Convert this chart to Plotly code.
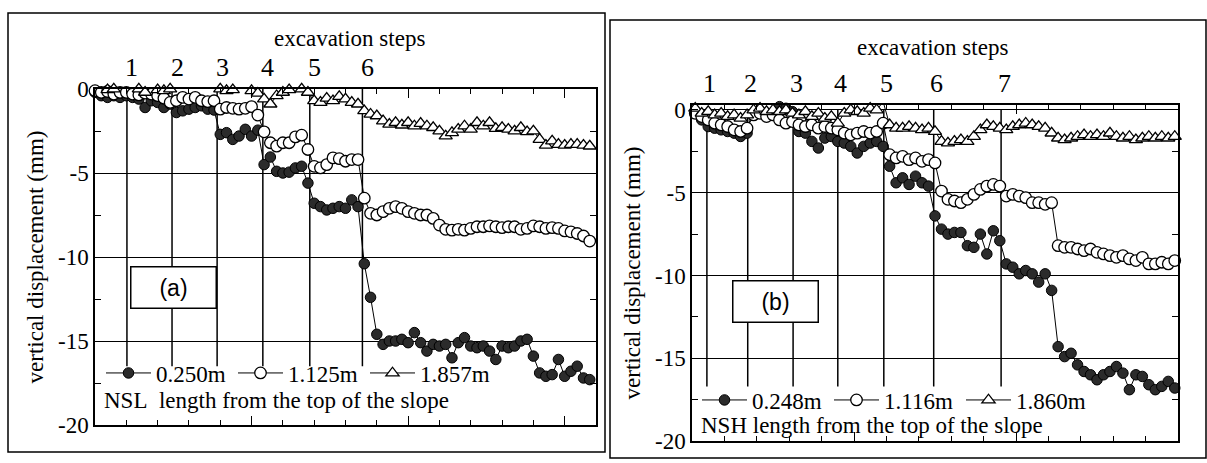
import plotly.graph_objects as go

W, H = 1207, 463

# ---------------- Panel (a): NSL ----------------
steps_a = [5.1, 12.3, 19.5, 26.8, 34.3, 42.7]
step_labels_a = ["1", "2", "3", "4", "5", "6"]

nsl_0250 = [-0.2, -0.4, -0.5, -0.4, -0.5, -0.4, -0.5, -0.6, -1.1, -0.7,
            -0.8, -1.1, -0.9, -1.4, -1.3, -1.2, -1.1, -1.0, -1.2, -1.25,
            -2.7, -2.6, -3.0, -2.8, -2.4, -2.8, -2.45, -4.5, -4.05, -4.9,
            -5.0, -4.95, -4.7, -4.6, -5.6, -6.8, -7.0, -7.2, -7.1, -7.0,
            -7.1, -6.6, -7.0, -10.4, -12.4, -14.6, -15.2, -15.0, -15.0, -14.9,
            -15.1, -14.5, -15.1, -15.6, -15.2, -15.3, -15.2, -16.0, -15.1, -14.8,
            -15.3, -15.4, -15.3, -15.6, -16.1, -15.3, -15.4, -15.3, -15.0, -14.9,
            -15.9, -16.9, -17.1, -17.0, -16.1, -17.1, -16.8, -16.5, -17.2, -17.3]

nsl_1125 = [-0.1, -0.2, -0.15, -0.3, -0.2, -0.2, -0.3, -0.35, -0.25, -0.3,
            -0.4, -0.55, -0.8, -0.7, -0.5, -0.6, -0.5, -0.7, -0.75, -0.7,
            -1.2, -1.1, -1.15, -1.2, -1.15, -1.05, -1.55, -2.55, -3.2, -3.4,
            -3.2, -3.2, -2.85, -2.75, -3.6, -4.6, -4.7, -4.5, -4.1, -4.15,
            -4.3, -4.2, -4.2, -6.5, -7.4, -7.5, -7.3, -7.1, -7.0, -7.1,
            -7.3, -7.4, -7.5, -7.5, -7.7, -8.1, -8.35, -8.4, -8.35, -8.4,
            -8.3, -8.2, -8.2, -8.15, -8.2, -8.25, -8.2, -8.2, -8.35, -8.3,
            -8.15, -8.2, -8.3, -8.25, -8.3, -8.45, -8.5, -8.6, -8.75, -9.05]

nsl_1857 = [0.2, 0.1, -0.05, 0.0, 0.1, 0.2, 0.15, 0.0, -0.2, 0.15,
            -0.05, -0.1, 0.0, 0.1, 0.15, 0.2, 0.1, 0.15, 0.2, 0.05,
            0.0, -0.1, -0.05, 0.15, 0.1, -0.1, -0.25, -0.6, -0.9, -0.4,
            -0.2, -0.05, 0.05, 0.0, -0.2, -0.7, -0.8, -0.55, -0.7, -0.45,
            -0.6, -0.8, -0.9, -1.3, -1.5, -1.6, -1.9, -2.1, -2.0, -2.15,
            -2.0, -2.2, -2.05, -2.2, -2.3, -2.5, -2.8, -2.6, -2.4, -2.2,
            -2.4, -2.0, -2.2, -2.0, -2.35, -2.3, -2.4, -2.5, -2.3, -2.55,
            -2.5, -3.0, -3.35, -3.1, -3.3, -3.35, -3.3, -3.3, -3.35, -3.4]

# ---------------- Panel (b): NSH ----------------
steps_b = [1.8, 8.1, 15.1, 22.0, 29.1, 36.8, 47.2]
step_labels_b = ["1", "2", "3", "4", "5", "6", "7"]

nsh_0248 = [0.5, -0.6, -1.0, -1.1, -1.2, -1.3, -1.4, -1.6, -1.4, 0.4,
            0.6, 0.5, 0.4, 0.2, 0.1, -0.1, -1.3, -1.4, -1.9, -2.3,
            -1.7, -1.6, -1.9, -2.0, -2.2, -2.6, -2.2, -2.0, -1.9, -2.2,
            -3.4, -4.4, -4.1, -4.5, -4.0, -4.4, -4.6, -6.4, -7.2, -7.5,
            -7.4, -7.4, -8.2, -8.3, -7.5, -8.7, -7.3, -7.9, -9.3, -9.5,
            -9.9, -9.7, -9.9, -10.4, -9.9, -10.9, -14.3, -14.9, -14.7, -15.4,
            -15.8, -16.0, -16.3, -16.0, -15.8, -15.5, -15.9, -16.9, -16.0, -16.1,
            -16.6, -16.9, -16.7, -16.4, -16.8]

nsh_1116 = [-0.2, -0.4, -0.6, -0.8, -0.9, -1.0, -1.2, -1.3, -1.1, -0.3,
            -0.2, -0.4, -0.3, -0.6, -0.8, -0.7, -0.9, -1.0, -0.9, -1.1,
            -1.0, -1.1, -1.2, -1.4, -1.5, -1.4, -1.3, -1.4, -1.3, -0.8,
            -2.7, -2.9, -2.8, -3.0, -2.9, -3.1, -3.0, -3.2, -4.9, -5.4,
            -5.5, -5.6, -5.4, -5.1, -4.8, -4.6, -4.5, -4.6, -5.2, -5.1,
            -5.2, -5.3, -5.6, -5.6, -5.7, -5.6, -8.2, -8.3, -8.3, -8.4,
            -8.5, -8.4, -8.6, -8.7, -8.8, -8.9, -8.8, -9.0, -9.1, -8.9,
            -9.3, -9.3, -9.2, -9.3, -9.1]

nsh_1860 = [0.1, -0.2, -0.1, -0.3, -0.2, -0.4, -0.3, -0.5, -0.3, 0.0,
            0.1, -0.1, 0.0, -0.1, 0.0, -0.2, -0.3, -0.1, -0.4, -0.2,
            -0.5, -0.4, -0.8, -0.2, 0.0, -0.1, -0.2, 0.1, 0.0, 0.5,
            -0.9, -1.1, -1.1, -1.0, -1.1, -1.2, -1.1, -1.3, -1.9, -2.0,
            -1.9, -1.8, -1.9, -1.6, -1.2, -0.9, -1.0, -1.1, -1.2, -1.0,
            -0.9, -0.8, -0.9, -1.0, -1.1, -1.4, -1.7, -1.8, -1.7, -1.6,
            -1.5, -1.6, -1.5, -1.6, -1.4, -1.6, -1.7, -1.6, -1.8, -1.7,
            -1.6, -1.7, -1.6, -1.7, -1.6]

legend_a = ["0.250m", "1.125m", "1.857m"]
legend_b = ["0.248m", "1.116m", "1.860m"]

y_tick_vals = [0, -5, -10, -15, -20]
y_tick_text = ["0", "-5", "-10", "-15", "-20"]
y_minor_vals = [-2.5, -7.5, -12.5, -17.5]

readings_a = list(range(len(nsl_0250)))
readings_b = list(range(len(nsh_0248)))

SERIF = "Liberation Serif"
SANS = "Liberation Sans"

styles = [
    dict(symbol="circle", size=10.5, color="#2b2b2b", line=dict(color="black", width=1)),
    dict(symbol="circle", size=11.5, color="white", line=dict(color="black", width=1.3)),
    dict(symbol="triangle-up", size=11.5, color="white", line=dict(color="black", width=1.3)),
]

fig = go.Figure()

for ys, name, st in zip([nsl_0250, nsl_1125, nsl_1857], legend_a, styles):
    fig.add_trace(go.Scatter(x=readings_a, y=ys, name=name, mode="lines+markers",
                             line=dict(color="black", width=1), marker=st,
                             cliponaxis=False, xaxis="x", yaxis="y", legend="legend"))
for ys, name, st in zip([nsh_0248, nsh_1116, nsh_1860], legend_b, styles):
    fig.add_trace(go.Scatter(x=readings_b, y=ys, name=name, mode="lines+markers",
                             line=dict(color="black", width=1), marker=st,
                             cliponaxis=False, xaxis="x2", yaxis="y2", legend="legend2"))


def px_x(p):
    return p / W


def px_y(p):
    return 1 - p / H


def xaxis_cfg(t0):
    return dict(showgrid=False, zeroline=False, showline=True, linecolor="black", linewidth=1.5,
                mirror="ticks", ticks="inside", ticklen=9, tickwidth=1.2, tickcolor="black",
                showticklabels=False, tick0=t0, dtick=25, automargin=False,
                minor=dict(ticks="inside", ticklen=5, tickwidth=1, tickcolor="black",
                           tick0=t0, dtick=5))


def yaxis_cfg():
    return dict(showgrid=True, gridcolor="black", gridwidth=1, zeroline=False, showline=True,
                linecolor="black", linewidth=1.5, mirror="ticks", ticks="inside", ticklen=6,
                tickwidth=1.2, tickcolor="black", tickmode="array",
                tickvals=y_tick_vals, ticktext=y_tick_text, automargin=False,
                tickfont=dict(family=SERIF, size=23, color="black"),
                minor=dict(ticks="inside", ticklen=6, tickwidth=1, tickcolor="black",
                           tickmode="array", tickvals=y_minor_vals, showgrid=False),
                title=dict(text="vertical displacement (mm)", standoff=8,
                           font=dict(family=SERIF, size=23, color="black")))


leg_font = dict(family=SERIF, size=23, color="black")

fig.update_layout(
    width=W, height=H, margin=dict(l=0, r=0, t=0, b=0, autoexpand=False),
    paper_bgcolor="white", plot_bgcolor="rgba(0,0,0,0)",
    font=dict(family=SERIF, color="black"),
    xaxis=dict(domain=[px_x(95), px_x(596)], range=[0, 80], anchor="y", **xaxis_cfg(0)),
    yaxis=dict(domain=[px_y(425), px_y(89)], range=[-20, 0], anchor="x", **yaxis_cfg()),
    xaxis2=dict(domain=[px_x(692), px_x(1178)], range=[-0.5, 74.5], anchor="y2", **xaxis_cfg(-0.5)),
    yaxis2=dict(domain=[px_y(441), px_y(105)], range=[-20, 0.3], anchor="x2", **yaxis_cfg()),
    legend=dict(x=px_x(101), y=px_y(373), xanchor="left", yanchor="middle", orientation="h",
                font=leg_font, bgcolor="rgba(0,0,0,0)", itemwidth=45,
                entrywidth=72, entrywidthmode="pixels", itemclick=False),
    legend2=dict(x=px_x(697), y=px_y(400), xanchor="left", yanchor="middle", orientation="h",
                 font=leg_font, bgcolor="rgba(0,0,0,0)", itemwidth=45,
                 entrywidth=72, entrywidthmode="pixels", itemclick=False),
    showlegend=True,
)

shapes = []
# outer frames
shapes.append(dict(type="rect", xref="paper", yref="paper", x0=px_x(8), x1=px_x(605),
                   y0=px_y(452), y1=px_y(13), line=dict(color="black", width=1.5), layer="below"))
shapes.append(dict(type="rect", xref="paper", yref="paper", x0=px_x(610), x1=px_x(1206),
                   y0=px_y(458), y1=px_y(20), line=dict(color="black", width=1.5), layer="below"))
# excavation step lines
for s in steps_a:
    shapes.append(dict(type="line", xref="x", yref="y", x0=s, x1=s, y0=0, y1=-16.5,
                       line=dict(color="black", width=1.5), layer="below"))
for s in steps_b:
    shapes.append(dict(type="line", xref="x2", yref="y2", x0=s, x1=s, y0=0, y1=-16.7,
                       line=dict(color="black", width=1.5), layer="below"))
fig.update_layout(shapes=shapes)


def txt(x, y, text, size=23, family=SERIF, xanchor="center", **kw):
    d = dict(x=x, y=y, xref="paper", yref="paper", text=text, showarrow=False,
             xanchor=xanchor, yanchor="middle",
             font=dict(family=family, size=size, color="black"))
    d.update(kw)
    return d


ann = []
for s, lab in zip(steps_a, step_labels_a):
    ann.append(txt(s, px_y(68), lab, size=26, xref="x", xshift=5))
for s, lab in zip(steps_b, step_labels_b):
    ann.append(txt(s, px_y(83), lab, size=26, xref="x2", xshift=3))
ann.append(txt(px_x(349), px_y(38), "excavation steps"))
ann.append(txt(px_x(932), px_y(48), "excavation steps"))
ann.append(txt(px_x(173), px_y(287), "(a)", family=SANS, width=82, height=38, bgcolor="white",
               bordercolor="black", borderwidth=1.5))
ann.append(txt(px_x(775), px_y(301), "(b)", family=SANS, width=82, height=38, bgcolor="white",
               bordercolor="black", borderwidth=1.5))
ann.append(txt(px_x(102), px_y(400), "NSL&nbsp;&nbsp;length from the top of the slope",
               xanchor="left"))
ann.append(txt(px_x(699), px_y(425), "NSH length from the top of the slope", xanchor="left"))
fig.update_layout(annotations=ann)

fig.write_html("out.html")
